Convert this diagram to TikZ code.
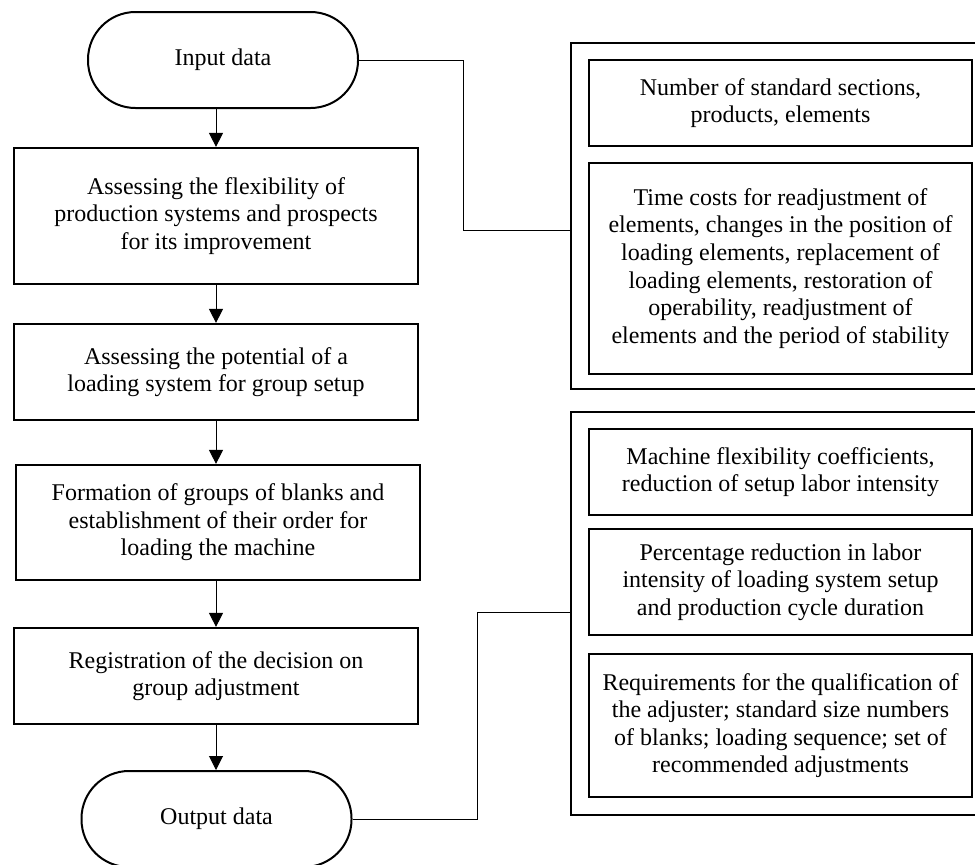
\documentclass[tikz,border=0pt]{standalone}
\usepackage{fontspec}
\setmainfont{Liberation Serif}
\usetikzlibrary{arrows.meta}
\begin{document}
\begin{tikzpicture}[x=1pt,y=-1pt,
  every node/.style={font=\fontsize{24}{27.6}\selectfont, align=center, inner sep=0pt},
  proc/.style={draw, line width=2.2pt, minimum width=404pt},
  term/.style={draw, line width=2pt, rounded corners=47.5pt, minimum width=270pt, minimum height=96pt},
  info/.style={draw, line width=1.2pt, minimum width=383pt},
  grp/.style={draw, line width=1.2pt, minimum width=426pt},
  flow/.style={line width=1pt, -{Triangle[length=14pt,width=14pt]}},
  link/.style={line width=1pt},
]
\useasboundingbox (0,0) rectangle (975,865);
\clip (0,0) rectangle (975,865);

% left column
\node[term] (in) at (223,60) {Input data};
\node[proc, minimum height=136pt] (b1) at (216,216) {Assessing the flexibility of\\production systems and prospects\\for its improvement};
\node[proc, minimum height=96pt] (b2) at (216,372) {Assessing the potential of a\\loading system for group setup};
\node[proc, minimum height=115pt] (b3) at (218,522.5) {Formation of groups of blanks and\\establishment of their order for\\loading the machine};
\node[proc, minimum height=96pt] (b4) at (216,676) {Registration of the decision on\\group adjustment};
\node[term] (out) at (216.5,819) {Output data};

\draw[flow] (b1.north |- in.south) -- (b1.north);
\draw[flow] (b1.south) -- (b2.north);
\draw[flow] (b2.south) -- (b2.south |- b3.north);
\draw[flow] (b4.north |- b3.south) -- (b4.north);
\draw[flow] (b4.south) -- (b4.south |- out.north);

% right column
\node[grp, minimum height=346pt] (o1) at (784,216) {};
\node[info, minimum height=86pt] (r1) at (780.5,103) {Number of standard sections,\\products, elements};
\node[info, minimum height=211pt] (r2) at (780.5,268.5) {Time costs for readjustment of\\elements, changes in the position of\\loading elements, replacement of\\loading elements, restoration of\\operability, readjustment of\\elements and the period of stability};

\node[grp, minimum height=403pt] (o2) at (784,613.5) {};
\node[info, minimum height=86pt] (r3) at (780.5,472) {Machine flexibility coefficients,\\reduction of setup labor intensity};
\node[info, minimum height=106pt] (r4) at (780.5,582) {Percentage reduction in labor\\intensity of loading system setup\\and production cycle duration};
\node[info, minimum height=143pt] (r5) at (780.5,725.5) {Requirements for the qualification of\\the adjuster; standard size numbers\\of blanks; loading sequence; set of\\recommended adjustments};

% connectors
\coordinate (j1) at (463,230);
\draw[link] (in.east) -| (j1) -- (j1 -| o1.west);
\coordinate (j2) at (477,612);
\draw[link] (out.east) -| (j2) -- (j2 -| o2.west);
\end{tikzpicture}
\end{document}
